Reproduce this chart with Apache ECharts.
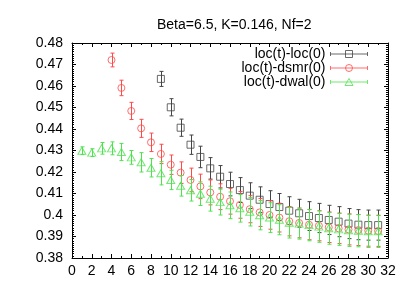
<!DOCTYPE html>
<html><head><meta charset="utf-8">
<script src="https://cdn.jsdelivr.net/npm/echarts@6/dist/echarts.min.js"></script>
<style>html,body{margin:0;padding:0;background:#fff}#c{width:409px;height:286px}</style>
</head><body><div id="c"></div>
<script>
var titleText = 'Beta=6.5, K=0.146, Nf=2';
var names = ['loc(t)-loc(0)', 'loc(t)-dsmr(0)', 'loc(t)-dwal(0)'];
var xTicks = [0,2,4,6,8,10,12,14,16,18,20,22,24,26,28,30,32];

var tLoc = [9,10,11,12,13,14,15,16,17,18,19,20,21,22,23,24,25,26,27,28,29,30,31];
var vLoc = [0.4633,0.4501,0.4406,0.4327,0.4270,0.4217,0.4178,0.4144,0.4116,0.4090,0.4071,0.4051,0.4037,0.4020,0.4008,0.3995,0.3986,0.3977,0.3969,0.3960,0.3955,0.3953,0.3953];
var eLoc = [0.0035,0.0040,0.0040,0.0045,0.0050,0.0050,0.0052,0.0055,0.0058,0.0060,0.0060,0.0062,0.0063,0.0065,0.0065,0.0067,0.0068,0.0068,0.0070,0.0070,0.0070,0.0070,0.0070];

var tDsmr = [4,5,6,7,8,9,10,11,12,13,14,15,16,17,18,19,20,21,22,23,24,25,26,27,28,29,30,31];
var vDsmr = [0.4721,0.4591,0.4484,0.4403,0.4338,0.4284,0.4234,0.4197,0.4163,0.4133,0.4105,0.4085,0.4064,0.4047,0.4027,0.4012,0.4000,0.3988,0.3971,0.3963,0.3955,0.3950,0.3943,0.3938,0.3933,0.3930,0.3927,0.3926];
var eDsmr = [0.0032,0.0036,0.0040,0.0042,0.0043,0.0045,0.0045,0.0050,0.0055,0.0057,0.0058,0.0060,0.0060,0.0062,0.0063,0.0065,0.0066,0.0067,0.0068,0.0069,0.0070,0.0070,0.0071,0.0071,0.0072,0.0072,0.0072,0.0072];

var tDwal = [1,2,3,4,5,6,7,8,9,10,11,12,13,14,15,16,17,18,19,20,21,22,23,24,25,26,27,28,29,30,31];
var vDwal = [0.4299,0.4290,0.4310,0.4310,0.4293,0.4268,0.4245,0.4220,0.4194,0.4163,0.4136,0.4115,0.4099,0.4076,0.4060,0.4045,0.4031,0.4015,0.3999,0.3988,0.3978,0.3964,0.3960,0.3953,0.3946,0.3938,0.3933,0.3929,0.3927,0.3924,0.3924];
var eDwal = [0.0018,0.0018,0.0027,0.0030,0.0040,0.0032,0.0045,0.0043,0.0054,0.0045,0.0048,0.0050,0.0055,0.0058,0.0060,0.0062,0.0064,0.0066,0.0068,0.0069,0.0070,0.0071,0.0072,0.0073,0.0073,0.0074,0.0074,0.0075,0.0075,0.0075,0.0075];

var colors = ['#454545', '#ff4a4a', '#4fe24f'];
var font = 'Liberation Sans, Arial, sans-serif';

function zip(t, v, e) { return t.map(function (x, i) { return [x, v[i], e[i]]; }); }
var sets = [zip(tLoc, vLoc, eLoc), zip(tDsmr, vDsmr, eDsmr), zip(tDwal, vDwal, eDwal)];

var icons = [
  'path://M0 4H37M0 2V6M37 2V6M15 0.5H22V7.5H15Z',
  'path://M0 4H37M0 2V6M37 2V6M15 4A3.5 3.5 0 1 0 22 4A3.5 3.5 0 1 0 15 4Z',
  'path://M0 4H37M0 2V6M37 2V6M18.5 0.5L22.5 7.5L14.5 7.5Z'
];
var symbols = ['rect', 'circle', 'triangle'];

function errRender(color) {
  return function (params, api) {
    var x = api.value(0), y = api.value(1), e = api.value(2);
    var top = api.coord([x, y + e]);
    var bot = api.coord([x, y - e]);
    var cx = Math.round(top[0]) + 0.5;
    var ty = top[1], by = bot[1];
    var st = { stroke: color, lineWidth: 1 };
    return {
      type: 'group',
      children: [
        { type: 'line', shape: { x1: cx, y1: ty, x2: cx, y2: by }, style: st },
        { type: 'line', shape: { x1: cx - 2, y1: ty, x2: cx + 2, y2: ty }, style: st },
        { type: 'line', shape: { x1: cx - 2, y1: by, x2: cx + 2, y2: by }, style: st }
      ]
    };
  };
}

var series = [];
for (var i = 0; i < 3; i++) {
  series.push({
    type: 'custom', name: 'err' + i, renderItem: errRender(colors[i]),
    data: sets[i], encode: { x: 0, y: 1 }, silent: true, z: 2 + i * 2
  });
  series.push({
    type: 'scatter', name: names[i], data: sets[i].map(function (d) { return [d[0], d[1]]; }),
    symbol: symbols[i], symbolSize: i === 2 ? [8, 7] : 7,
    itemStyle: { color: 'none', borderColor: colors[i], borderWidth: 1 },
    silent: true, z: 3 + i * 2
  });
}

var legends = names.map(function (n, i) {
  return {
    data: [{ name: n, icon: icons[i] }],
    right: 39, top: 47 + i * 14,
    itemWidth: 37, itemHeight: 8, align: 'right', padding: 0,
    selectedMode: false,
    itemStyle: { borderWidth: 1, borderColor: colors[i], color: 'none' },
    textStyle: { fontSize: 14, color: '#000', fontFamily: font }
  };
});

function xAx(pos, showLabel) {
  return {
    type: 'value', position: pos, min: 0, max: 32, interval: 2,
    axisLine: { show: true, onZero: false, lineStyle: { color: '#000', width: 1 } },
    axisTick: { show: true, inside: true, length: 4, lineStyle: { color: '#000' } },
    minorTick: { show: true, splitNumber: 2, length: 2, lineStyle: { color: '#000' } },
    splitLine: { show: false },
    axisLabel: { show: showLabel, fontSize: 14, color: '#000', fontFamily: font, margin: 6 }
  };
}
function yAx(pos, showLabel) {
  return {
    type: 'value', position: pos, min: 0.38, max: 0.48, interval: 0.01,
    axisLine: { show: true, onZero: false, lineStyle: { color: '#000', width: 1 } },
    axisTick: { show: true, inside: true, length: 4, lineStyle: { color: '#000' } },
    minorTick: { show: true, splitNumber: 10, length: 2, lineStyle: { color: '#000' } },
    splitLine: { show: false },
    axisLabel: {
      show: showLabel, fontSize: 14, color: '#000', fontFamily: font, margin: 9,
      formatter: function (v) { return String(Math.round(v * 100) / 100); }
    }
  };
}

var chart = echarts.init(document.getElementById('c'), null, { renderer: 'canvas' });
chart.setOption({
  animation: false,
  backgroundColor: '#fff',
  title: { text: titleText, left: 152, top: 13, textStyle: { fontSize: 14, fontWeight: 'normal', color: '#000', fontFamily: font } },
  grid: { left: 72, right: 21, top: 43, bottom: 28 },
  legend: legends,
  xAxis: [xAx('bottom', true), xAx('top', false)],
  yAxis: [yAx('left', true), yAx('right', false)],
  series: series
});
</script></body></html>
